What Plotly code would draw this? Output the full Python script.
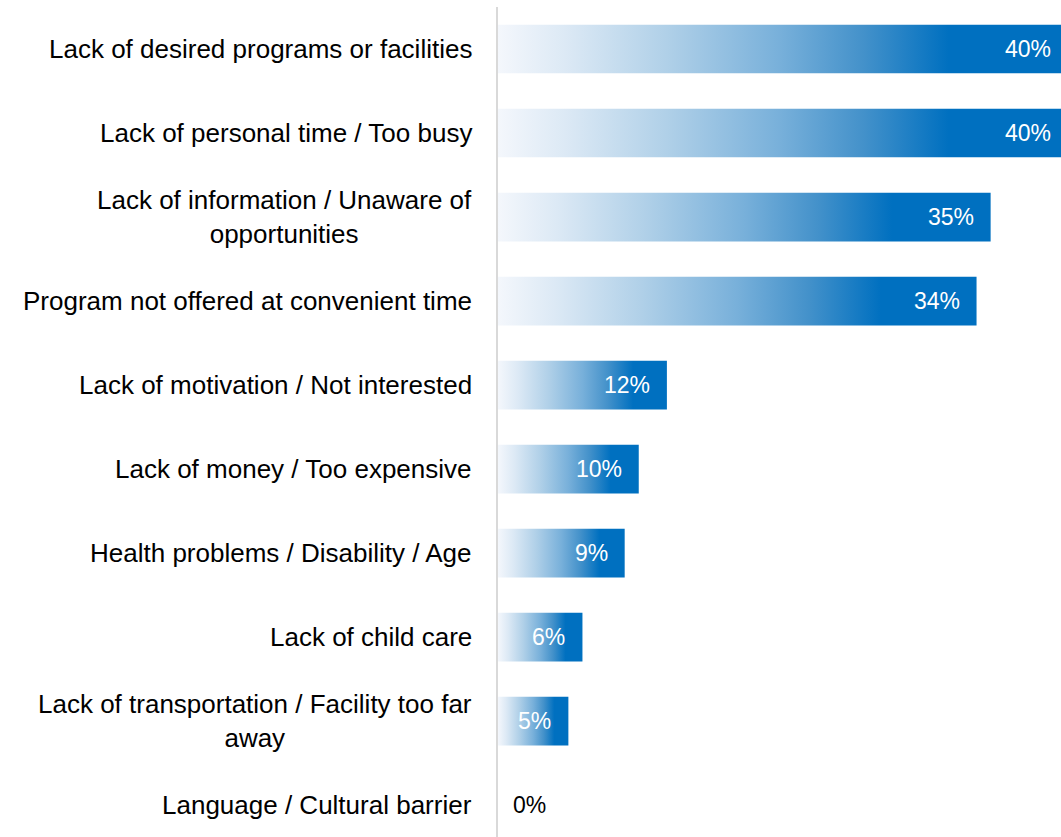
import plotly.graph_objects as go

# Reasons for not using programs / facilities, share of respondents (%)
categories = [
    "Lack of desired programs or facilities",
    "Lack of personal time / Too busy",
    "Lack of information / Unaware of<br>opportunities",
    "Program not offered at convenient time",
    "Lack of motivation / Not interested",
    "Lack of money / Too expensive",
    "Health problems / Disability / Age",
    "Lack of child care",
    "Lack of transportation / Facility too far<br>away",
    "Language / Cultural barrier",
]
values = [40, 40, 35, 34, 12, 10, 9, 6, 5, 0]
value_labels = ["40%", "40%", "35%", "34%", "12%", "10%", "9%", "6%", "5%", "0%"]

BLUE = "#0070c0"
GRADIENT = [
    [0.0, "#f4f7fc"],
    [0.12, "#dce9f5"],
    [0.3, "#b0d0e8"],
    [0.5, "#78b0da"],
    [0.65, "#4391ca"],
    [0.8, BLUE],
    [1.0, BLUE],
]
HALF = 0.29  # half of bar thickness in category units
LABEL_FONT = "Liberation Sans, Arial, sans-serif"

fig = go.Figure()

for i, (cat, v) in enumerate(zip(categories, values)):
    if v <= 0:
        continue
    # each bar is a filled rectangle with a horizontal light-to-blue gradient
    fig.add_trace(
        go.Scatter(
            x=[0, v, v, 0, 0],
            y=[i - HALF, i - HALF, i + HALF, i + HALF, i - HALF],
            mode="lines",
            line=dict(width=0),
            fill="toself",
            fillgradient=dict(type="horizontal", colorscale=GRADIENT),
            hoverinfo="skip",
            showlegend=False,
        )
    )

annotations = []
for i, (cat, v, lab) in enumerate(zip(categories, values, value_labels)):
    # category label to the left of the axis
    annotations.append(
        dict(
            x=0, xref="paper", y=i, yref="y",
            text=cat, showarrow=False,
            xanchor="right", yanchor="middle", align="center",
            xshift=-24,
            font=dict(family=LABEL_FONT, size=26, color="#000000"),
        )
    )
    # value label
    if v > 0:
        annotations.append(
            dict(
                x=v, xref="x", y=i, yref="y",
                text=lab, showarrow=False,
                xanchor="right", yanchor="middle",
                xshift=-8 if v >= 40 else -15,
                font=dict(family=LABEL_FONT, size=23, color="#ffffff"),
            )
        )
    else:
        annotations.append(
            dict(
                x=0, xref="x", y=i, yref="y",
                text=lab, showarrow=False,
                xanchor="left", yanchor="middle",
                xshift=13,
                font=dict(family=LABEL_FONT, size=23, color="#000000"),
            )
        )

fig.update_layout(
    width=1061,
    height=837,
    margin=dict(l=498, r=0, t=7, b=0),
    paper_bgcolor="white",
    plot_bgcolor="white",
    annotations=annotations,
    xaxis=dict(
        range=[0, 40],
        showgrid=False,
        zeroline=False,
        showticklabels=False,
        showline=False,
        fixedrange=True,
    ),
    yaxis=dict(
        range=[9.38, -0.5],
        showgrid=False,
        zeroline=False,
        showticklabels=False,
        showline=True,
        linecolor="#d9d9d9",
        linewidth=2,
        fixedrange=True,
    ),
)

fig.write_html("out.html")
